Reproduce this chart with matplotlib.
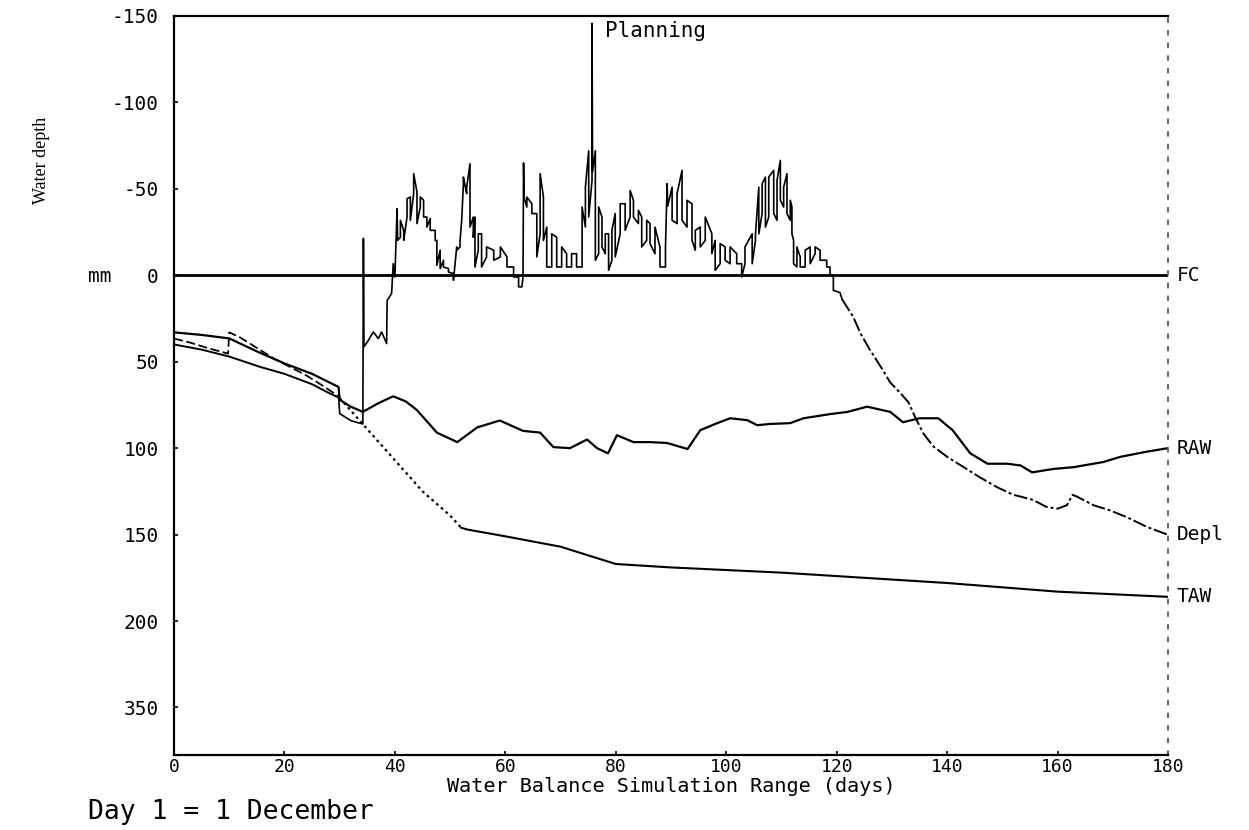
import matplotlib
matplotlib.use("Agg")
import matplotlib.pyplot as plt

# ---------------- data ----------------
x_ticks = [0, 20, 40, 60, 80, 100, 120, 140, 160, 180]
y_ticks = [-150, -100, -50, 0, 50, 100, 150, 200, 250]
y_tick_labels = ["-150", "-100", "-50", "0", "50", "100", "150", "200", "350"]

fc_day = [0, 180]
fc_mm = [0, 0]

taw_day = [0, 5, 10, 15.6, 20, 25, 28, 30, 35, 40, 42.8, 45, 50, 52, 53, 60, 70, 78, 80,
           90, 100, 110, 120, 130, 140, 150, 160, 170, 180]
taw_mm = [40, 43, 47, 53, 57, 63, 68, 71, 89, 107, 117, 125, 139, 146, 147, 151, 157, 165, 167,
          169, 170.5, 172, 174, 176, 178, 180.5, 183, 184.5, 186]

raw_day = [0, 5, 10, 15, 20, 25, 29.8, 30, 32, 34.2, 37, 39.7, 42, 44, 47.6, 51.3, 54.9, 59,
           63.2, 66.3, 68.7, 71.7, 74.8, 76.6, 78.6, 80.2, 83.2, 86.2, 89.3, 93, 95.3, 98,
           100.7, 103.8, 105.6, 108, 111.6, 114, 118.8, 122, 125.5, 129.7, 132, 135, 138.4,
           141, 144.2, 147.3, 150.9, 153.3, 155.4, 159.3, 162.9, 168.3, 171.4, 176.2, 180]
raw_mm = [33, 34.5, 36.5, 44, 51, 57, 64.6, 72, 76, 79, 74, 70, 73, 78, 91, 96.5, 88, 84,
          90, 91, 99.4, 100, 95, 100, 103, 92.5, 96.5, 96.5, 97, 100.5, 89.6, 86,
          82.7, 83.8, 86.7, 86, 85.5, 82.7, 80.3, 79, 76, 79, 85, 82.7, 82.7,
          89.6, 103, 109, 109, 110, 114, 112, 111, 108, 105, 102, 100]

depl_day = [0, 3, 6, 9.8, 10, 12, 15, 18, 21, 24, 27, 29.8,
            30, 31, 32, 33, 34.2, 34.3, 34.4, 35.2, 36.1, 37, 37.6, 38.5, 38.6, 39.4, 39.7, 40,
            40.4, 40.5, 41, 41, 41.6, 41.6, 42.2, 42.2, 42.8, 42.8, 43.4, 43.4, 44, 44,
            44.6, 44.6, 45.2, 45.2, 45.8, 45.8, 46.4, 46.4, 47.3, 47.3, 47.6, 47.6,
            48.2, 48.2, 48.8, 48.8, 49.7, 49.7, 50.6, 50.6, 51.2, 51.2, 51.8, 51.8, 52.1,
            52.4, 52.4, 53, 53, 53.6, 53.6, 54.2, 54.2, 54.5, 54.5, 55.1, 55.1, 55.7, 55.7,
            56.6, 56.6, 57.9, 57.9, 59.1, 59.1, 60.3, 60.3, 61.5, 61.5, 62.4, 62.4,
            63, 63.2, 63.3, 63.4, 63.9, 63.9, 64.8, 64.8, 65.7, 65.7, 66.3, 66.3,
            66.9, 66.9, 67.5, 67.5, 68.4, 68.4, 69.3, 69.3, 70.2, 70.2, 71.1, 71.1,
            72, 72, 72.9, 72.9, 73.9, 73.9, 74.5, 74.5, 75.1, 75.1, 75.7, 75.7, 75.8,
            76.3, 76.3, 76.9, 76.9, 77.5, 77.5, 78.1, 78.1, 78.7, 78.7, 79.3, 79.3,
            79.9, 79.9, 80.8, 80.8, 81.7, 81.7, 82.6, 82.6, 83.2, 83.2, 84.1, 84.1,
            84.7, 84.7, 85.6, 85.6, 86.2, 86.2, 87.1, 87.1, 88, 88, 89, 89, 89.3, 89.4,
            90.2, 90.2, 91.1, 91.1, 92, 92, 92.9, 92.9, 93.8, 93.8, 94.4, 94.4,
            95.3, 95.3, 96.2, 96.2, 97.4, 97.4, 98, 98, 98.9, 98.9, 99.8, 99.8,
            100.7, 100.7, 101.9, 101.9, 102.8, 102.8, 103.4, 103.4, 104.7, 104.7,
            105.3, 105.3, 105.9, 105.9, 106.5, 106.5, 107.1, 107.1, 107.7, 107.7,
            108.6, 108.6, 109.2, 109.2, 109.8, 109.8, 110.4, 110.4, 111, 111,
            111.6, 111.6, 111.9, 111.9, 112.2, 112.2, 112.8, 112.8, 113.4, 113.4,
            114.3, 114.3, 115.2, 115.2, 116.1, 116.1, 117, 117, 118.2, 118.2,
            118.8, 118.8, 119.4, 119.4, 120.6, 121,
            123, 124.3, 126, 128, 129.7, 131.5, 133, 134.2, 135.7, 137.5, 140, 143, 146,
            149, 152, 153.3, 155.6, 158, 160, 161.7, 162.7, 163.5, 166.5, 169.5, 172.6,
            176.2, 179.9]
depl_mm = [36.6, 39, 42, 45.3, 33, 36, 42, 48, 53, 58, 64, 70,
           80, 82, 84, 85, 86, -21.4, 41.4, 37.6, 32.8, 36.6, 32.8, 39.5, 14.5, 10.6, -6.7, 1,
           -38.5, -20.2, -22, -31.8, -26, -20.2, -33.7, -44.3, -45.3, -31.8, -47.2, -58.8, -48.2, -29.9,
           -39.5, -45.3, -43.4, -33.7, -33.7, -27.9, -32.8, -26, -26, -20.2, -20.2, -5.8,
           -14.5, -3.9, -8.7, -4.8, -3.9, -1.9, -1, 2.9, -16.4, -14.5, -16.4, -20.2, -31.8,
           -53, -56.8, -47.2, -51, -64.5, -27.9, -33.7, -22, -33.7, -4.8, -14.5, -24, -24, -4.8,
           -10.6, -16.4, -14.5, -8.7, -10.6, -16.4, -10.6, -4.8, -4.8, 1, 1, 6.7,
           6.7, 1, -65, -45, -39.5, -45.3, -41.4, -35.7, -35.7, -10.6, -24, -58.8,
           -45.3, -20.2, -27.9, -4.8, -4.8, -24, -22, -4.8, -4.8, -16.4, -12.5, -4.8,
           -4.8, -12.5, -12.5, -4.8, -4.8, -39.5, -27.9, -51, -72, -33.7, -54.9, -145.7, -60,
           -72, -8.7, -12.5, -39.5, -33.7, -16.4, -12.5, -24, -24, -2.9, -8.7, -26,
           -35.7, -10.6, -24, -41.4, -41.4, -26, -33.7, -49, -43.4, -33.7, -29.9, -37.6,
           -33.7, -16.4, -20.2, -31.8, -29.9, -18.3, -12.5, -27.9, -16.4, -4.8, -4.8, -16.4, -53, -40,
           -51, -31.8, -29.9, -47.2, -60.7, -31.8, -27.9, -43.4, -41.4, -20.2, -14.5, -26,
           -27.9, -16.4, -20.2, -33.7, -24, -12.5, -20.2, -2.9, -6.7, -18.3, -16.4, -8.7,
           -6.7, -16.4, -12.5, -6.7, -6.7, 1, -6.7, -16.4, -24, -6.7,
           -20.2, -24, -51, -24, -35.7, -53, -56.8, -27.9, -33.7, -56.8,
           -60.7, -35.7, -31.8, -54.9, -66.5, -43.4, -39.5, -51, -58.8, -35.7,
           -31.8, -43.4, -39.5, -24, -20.2, -6.7, -4.8, -16.4, -10.6, -4.8,
           -4.8, -14.5, -16.4, -6.7, -12.5, -16.4, -14.5, -8.7, -8.7, -4.8,
           -4.8, -1, 1, 8.7, 10, 14,
           24, 33.5, 43, 53, 62, 68, 73.5, 82, 91.5, 99, 105, 111, 117,
           122.5, 127, 128, 130, 134, 135, 133, 127, 128, 133, 136, 140,
           145.6, 150]

right_labels = ["FC", "RAW", "Depl", "TAW"]
right_label_mm = [0, 100, 150, 186]

# ---------------- figure ----------------
W, H = 1249, 830
fig = plt.figure(figsize=(W / 100, H / 100), dpi=100)
ax = fig.add_axes([174 / W, 1 - 755 / H, (1168 - 174) / W, (755 - 16) / H])

mono = "DejaVu Sans Mono"

ax.plot(fc_day, fc_mm, color="black", lw=2.0, solid_capstyle="butt")

# TAW: solid, dotted while roots grow, solid again
i30 = taw_day.index(30)
i52 = taw_day.index(52)
ax.plot(taw_day[:i30 + 1], taw_mm[:i30 + 1], color="black", lw=1.4)
ax.plot(taw_day[i30:i52 + 1], taw_mm[i30:i52 + 1], color="black", lw=1.6, ls=(0, (1.2, 1.6)))
ax.plot(taw_day[i52:], taw_mm[i52:], color="black", lw=1.5)

ax.plot(raw_day, raw_mm, color="black", lw=1.6)

# Depletion: dashed start, jagged solid middle, dash-dot recession
j30 = depl_day.index(30)
j121 = depl_day.index(121)
ax.plot(depl_day[:j30], depl_mm[:j30], color="black", lw=1.3, ls=(0, (5, 2)))
ax.plot(depl_day[j30 - 1:j121 + 1], depl_mm[j30 - 1:j121 + 1], color="black", lw=1.2)
ax.plot(depl_day[j121:], depl_mm[j121:], color="black", lw=1.4, ls=(0, (7, 1.5, 1.5, 1.5)))

ax.set_xlim(0, 180)
ax.set_ylim(277.5, -150)
ax.set_xticks(x_ticks)
ax.set_xticklabels([str(v) for v in x_ticks], family=mono, fontsize=13)
ax.set_yticks(y_ticks)
ax.set_yticklabels(y_tick_labels, family=mono, fontsize=14)
ax.tick_params(axis="both", direction="in", length=3, width=1.2, colors="black")
ax.tick_params(axis="y", pad=11)
ax.tick_params(axis="x", pad=2)

for s in ["left", "bottom", "top"]:
    ax.spines[s].set_linewidth(1.6)
ax.spines["right"].set_linestyle((0, (2, 5)))
ax.spines["right"].set_linewidth(1.3)
ax.spines["right"].set_color("0.35")

for lab, v in zip(right_labels, right_label_mm):
    ax.text(181.6, v, lab, family=mono, fontsize=14, va="center", ha="left",
            clip_on=False)

ax.text(78.0, -147, "Planning", family=mono, fontsize=15, va="top", ha="left")

fig.text(100 / W, 1 - 276 / H, "mm", family=mono, fontsize=14, ha="center", va="center")
fig.text(42 / W, 1 - 160 / H, "Water depth", family="Liberation Serif", fontsize=13,
         rotation=90, ha="center", va="center")
fig.text(671 / W, 1 - 786 / H, "Water Balance Simulation Range (days)", family=mono,
         fontsize=14.5, ha="center", va="center")
fig.text(88 / W, 1 - 812 / H, "Day 1 = 1 December", family=mono, fontsize=19,
         ha="left", va="center")

fig.savefig("out.png", dpi=100, facecolor="white")
